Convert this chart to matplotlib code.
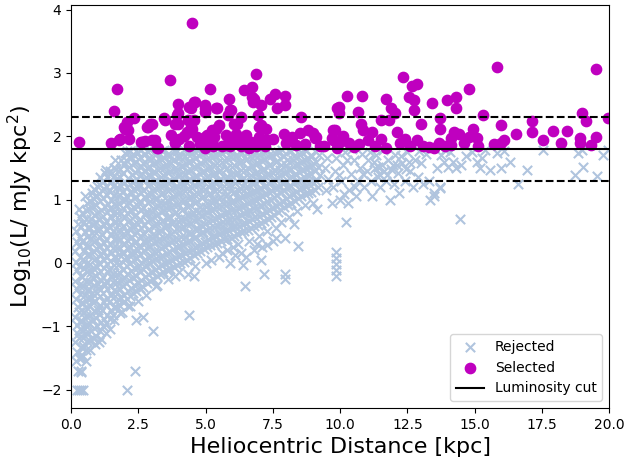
import matplotlib
matplotlib.use("Agg")
import matplotlib.pyplot as plt

# --- Rejected sources ---
# near side, x < 2.6 kpc
rej_near_x = [0.18, 0.22, 0.15, 0.25, 0.2, 0.14, 0.24, 0.18, 0.21, 0.16, 0.23, 0.19, 0.15, 0.22, 0.17, 0.25, 0.3,
              0.42, 0.48, 0.44, 0.5, 0.41, 0.47, 0.43, 0.5, 0.45, 0.4, 0.49, 0.44, 0.47, 0.42, 0.5, 0.45, 0.41, 0.52,
              0.68, 0.73, 0.66, 0.72, 0.7, 0.75, 0.67, 0.71, 0.74, 0.69, 0.72, 0.66, 0.73, 0.7, 0.75, 0.68, 0.72, 0.78,
              0.92, 0.97, 0.94, 1.0, 0.9, 0.96, 0.99, 0.93, 0.97, 0.91, 0.98, 0.94, 0.99, 0.92, 0.97, 0.93, 0.98, 0.95,
              1.18, 1.23, 1.16, 1.22, 1.19, 1.25, 1.17, 1.21, 1.24, 1.18, 1.22, 1.16, 1.23, 1.19, 1.25, 1.17, 1.22, 1.2, 1.26,
              1.43, 1.48, 1.42, 1.47, 1.44, 1.5, 1.41, 1.46, 1.49, 1.43, 1.47, 1.42, 1.5, 1.44, 1.48, 1.42, 1.47, 1.45,
              1.68, 1.73, 1.66, 1.71, 1.69, 1.75, 1.67, 1.72, 1.7, 1.74, 1.66, 1.71, 1.68, 1.73, 1.69, 1.72, 1.67, 1.62,
              1.93, 1.98, 1.92, 1.97, 1.94, 2.0, 1.91, 1.96, 1.99, 1.93, 1.97, 1.92, 1.99, 1.94, 1.98, 1.93, 1.97, 2.0,
              2.18, 2.23, 2.16, 2.22, 2.19, 2.25, 2.17, 2.21, 2.24, 2.18, 2.22, 2.16, 2.23, 2.19, 2.25, 2.17, 2.21, 2.2,
              2.43, 2.48, 2.42, 2.47, 2.44, 2.5, 2.41, 2.46, 2.49, 2.43, 2.47, 2.42, 2.5, 2.44, 2.48, 2.42, 2.47]
rej_near_y = [-1.55, -1.4, -1.25, -1.12, -0.98, -0.85, -0.7, -0.57, -0.42, -0.28, -0.12, 0.02, 0.18, 0.33, 0.5, 0.62, 0.85,
              -1.45, -1.32, -1.18, -1.05, -0.92, -0.78, -0.64, -0.5, -0.37, -0.22, -0.08, 0.06, 0.2, 0.35, 0.48, 0.63, 0.78, 1.05,
              -1.22, -1.08, -0.95, -0.82, -0.68, -0.55, -0.42, -0.3, -0.15, -0.02, 0.12, 0.26, 0.4, 0.55, 0.7, 0.85, 0.98, 1.1,
              -1.15, -1.0, -0.87, -0.74, -0.6, -0.47, -0.33, -0.2, -0.06, 0.08, 0.22, 0.36, 0.5, 0.64, 0.78, 0.92, 1.05, 1.22,
              -1.0, -0.88, -0.75, -0.62, -0.48, -0.35, -0.22, -0.08, 0.05, 0.18, 0.32, 0.46, 0.6, 0.74, 0.88, 1.02, 1.16, 1.3, 1.42,
              -0.88, -0.75, -0.62, -0.5, -0.36, -0.23, -0.1, 0.03, 0.16, 0.3, 0.44, 0.58, 0.72, 0.86, 1.0, 1.14, 1.28, 1.45,
              -0.7, -0.57, -0.44, -0.3, -0.17, -0.04, 0.1, 0.23, 0.37, 0.5, 0.64, 0.78, 0.92, 1.06, 1.2, 1.34, 1.48, 1.62,
              -0.62, -0.5, -0.37, -0.24, -0.1, 0.04, 0.17, 0.3, 0.44, 0.58, 0.72, 0.86, 1.0, 1.14, 1.28, 1.42, 1.56, 1.73,
              -0.52, -0.4, -0.27, -0.13, 0.0, 0.13, 0.27, 0.4, 0.54, 0.68, 0.82, 0.96, 1.1, 1.24, 1.38, 1.52, 1.66, 1.77,
              -0.45, -0.32, -0.2, -0.06, 0.08, 0.21, 0.35, 0.48, 0.62, 0.76, 0.9, 1.04, 1.18, 1.32, 1.46, 1.6, 1.74]

# second pass over the near side (in between the first)
rej_near2_x = [0.31, 0.35, 0.3, 0.34, 0.32, 0.29, 0.36, 0.33, 0.3, 0.35, 0.31, 0.34, 0.29, 0.33, 0.36, 0.32,
               0.56, 0.6, 0.55, 0.59, 0.57, 0.54, 0.61, 0.58, 0.55, 0.6, 0.56, 0.59, 0.54, 0.58, 0.61, 0.57, 0.55, 0.59,
               0.81, 0.85, 0.8, 0.84, 0.82, 0.79, 0.86, 0.83, 0.8, 0.85, 0.81, 0.84, 0.79, 0.83, 0.86, 0.82, 0.8, 0.84,
               1.06, 1.1, 1.05, 1.09, 1.07, 1.04, 1.11, 1.08, 1.05, 1.1, 1.06, 1.09, 1.04, 1.08, 1.11, 1.07, 1.05, 1.09, 1.06,
               1.31, 1.35, 1.3, 1.34, 1.32, 1.29, 1.36, 1.33, 1.3, 1.35, 1.31, 1.34, 1.29, 1.33, 1.36, 1.32, 1.3, 1.34, 1.31,
               1.56, 1.6, 1.55, 1.59, 1.57, 1.54, 1.61, 1.58, 1.55, 1.6, 1.56, 1.59, 1.54, 1.58, 1.61, 1.57, 1.55, 1.59,
               1.81, 1.85, 1.8, 1.84, 1.82, 1.79, 1.86, 1.83, 1.8, 1.85, 1.81, 1.84, 1.79, 1.83, 1.86, 1.82, 1.8, 1.84,
               2.06, 2.1, 2.05, 2.09, 2.07, 2.04, 2.11, 2.08, 2.05, 2.1, 2.06, 2.09, 2.04, 2.08, 2.11, 2.07, 2.05, 2.09,
               2.31, 2.35, 2.3, 2.34, 2.32, 2.29, 2.36, 2.33, 2.3, 2.35, 2.31, 2.34, 2.29, 2.33, 2.36, 2.32, 2.3,
               2.56, 2.6, 2.55, 2.59, 2.57, 2.54, 2.61, 2.58, 2.55, 2.6, 2.56, 2.59, 2.54, 2.58, 2.61, 2.57, 2.55]
rej_near2_y = [-1.5, -1.33, -1.19, -1.04, -0.91, -0.77, -0.63, -0.49, -0.35, -0.2, -0.05, 0.1, 0.26, 0.41, 0.56, 0.72,
               -1.38, -1.24, -1.11, -0.97, -0.84, -0.7, -0.57, -0.43, -0.29, -0.15, -0.01, 0.13, 0.27, 0.41, 0.56, 0.7, 0.84, 0.95,
               -1.18, -1.03, -0.9, -0.76, -0.62, -0.48, -0.35, -0.22, -0.08, 0.05, 0.19, 0.33, 0.47, 0.62, 0.76, 0.9, 1.03, 1.16,
               -1.08, -0.94, -0.81, -0.67, -0.53, -0.4, -0.27, -0.13, 0.0, 0.13, 0.27, 0.41, 0.55, 0.69, 0.83, 0.97, 1.1, 1.23, 1.36,
               -0.95, -0.82, -0.68, -0.55, -0.42, -0.29, -0.15, -0.02, 0.11, 0.24, 0.38, 0.52, 0.66, 0.8, 0.93, 1.07, 1.21, 1.35, 1.47,
               -0.82, -0.69, -0.56, -0.43, -0.3, -0.17, -0.03, 0.1, 0.23, 0.37, 0.51, 0.65, 0.79, 0.93, 1.07, 1.21, 1.35, 1.5,
               -0.68, -0.55, -0.42, -0.29, -0.16, -0.02, 0.11, 0.24, 0.38, 0.51, 0.65, 0.79, 0.93, 1.07, 1.21, 1.35, 1.49, 1.63,
               -0.57, -0.44, -0.31, -0.18, -0.05, 0.09, 0.22, 0.36, 0.5, 0.64, 0.78, 0.92, 1.06, 1.2, 1.34, 1.48, 1.62, 1.76,
               -0.48, -0.35, -0.22, -0.08, 0.05, 0.19, 0.32, 0.46, 0.6, 0.74, 0.88, 1.02, 1.16, 1.3, 1.44, 1.58, 1.72,
               -0.4, -0.27, -0.13, 0.0, 0.14, 0.27, 0.41, 0.55, 0.69, 0.83, 0.97, 1.11, 1.25, 1.39, 1.53, 1.67, 1.79]

# middle, 2.6 - 6 kpc
rej_mid_x = [2.68, 2.74, 2.66, 2.72, 2.7, 2.75, 2.67, 2.71, 2.73, 2.69, 2.74, 2.66, 2.72, 2.7, 2.68, 2.73,
             2.93, 2.98, 2.92, 2.97, 2.95, 3.0, 2.91, 2.96, 2.99, 2.93, 2.97, 2.92, 2.98, 2.94, 2.97, 2.93,
             3.18, 3.23, 3.16, 3.22, 3.19, 3.25, 3.17, 3.21, 3.24, 3.18, 3.22, 3.16, 3.23, 3.19, 3.21,
             3.43, 3.48, 3.42, 3.47, 3.44, 3.5, 3.41, 3.46, 3.49, 3.43, 3.47, 3.42, 3.48, 3.44, 3.46,
             3.68, 3.73, 3.66, 3.72, 3.7, 3.75, 3.67, 3.71, 3.74, 3.68, 3.72, 3.66, 3.73, 3.69,
             3.93, 3.98, 3.92, 3.97, 3.94, 4.0, 3.91, 3.96, 3.99, 3.93, 3.97, 3.92, 3.98, 3.95,
             4.18, 4.23, 4.16, 4.22, 4.19, 4.25, 4.17, 4.21, 4.24, 4.18, 4.22, 4.16, 4.23, 4.2,
             4.43, 4.48, 4.42, 4.47, 4.44, 4.5, 4.41, 4.46, 4.49, 4.43, 4.47, 4.42, 4.48,
             4.68, 4.73, 4.66, 4.72, 4.7, 4.75, 4.67, 4.71, 4.74, 4.68, 4.72, 4.66, 4.73,
             4.93, 4.98, 4.92, 4.97, 4.94, 5.0, 4.91, 4.96, 4.99, 4.93, 4.97, 4.94,
             5.18, 5.23, 5.16, 5.22, 5.19, 5.25, 5.17, 5.21, 5.24, 5.18, 5.22, 5.2,
             5.43, 5.48, 5.42, 5.47, 5.44, 5.5, 5.41, 5.46, 5.49, 5.43, 5.47,
             5.68, 5.73, 5.66, 5.72, 5.7, 5.75, 5.67, 5.71, 5.74, 5.68, 5.72,
             5.93, 5.98, 5.92, 5.97, 5.94, 6.0, 5.91, 5.96, 5.99, 5.93, 5.97]
rej_mid_y = [-0.38, -0.22, -0.1, 0.05, 0.2, 0.31, 0.47, 0.6, 0.76, 0.88, 1.03, 1.15, 1.31, 1.45, 1.57, 1.72,
             -0.28, -0.15, 0.0, 0.11, 0.27, 0.4, 0.53, 0.69, 0.81, 0.97, 1.09, 1.25, 1.37, 1.52, 1.64, 1.78,
             -0.2, -0.07, 0.08, 0.19, 0.35, 0.47, 0.63, 0.75, 0.9, 1.03, 1.19, 1.31, 1.46, 1.59, 1.74,
             -0.15, 0.0, 0.11, 0.27, 0.39, 0.55, 0.67, 0.83, 0.95, 1.11, 1.23, 1.39, 1.51, 1.66, 1.78,
             -0.09, 0.05, 0.17, 0.33, 0.45, 0.61, 0.73, 0.89, 1.01, 1.17, 1.29, 1.45, 1.57, 1.71,
             -0.03, 0.11, 0.25, 0.37, 0.53, 0.65, 0.81, 0.93, 1.09, 1.21, 1.37, 1.49, 1.65, 1.77,
             0.02, 0.15, 0.29, 0.41, 0.57, 0.69, 0.85, 0.97, 1.13, 1.25, 1.41, 1.53, 1.69, 1.79,
             0.08, 0.21, 0.35, 0.47, 0.63, 0.75, 0.91, 1.03, 1.19, 1.31, 1.47, 1.59, 1.74,
             0.15, 0.27, 0.41, 0.53, 0.69, 0.81, 0.97, 1.09, 1.25, 1.37, 1.53, 1.65, 1.78,
             0.22, 0.33, 0.49, 0.61, 0.77, 0.89, 1.05, 1.17, 1.33, 1.45, 1.61, 1.73,
             0.28, 0.41, 0.55, 0.67, 0.83, 0.95, 1.11, 1.23, 1.39, 1.51, 1.67, 1.78,
             0.32, 0.45, 0.6, 0.73, 0.88, 1.01, 1.16, 1.29, 1.44, 1.57, 1.72,
             0.37, 0.5, 0.65, 0.78, 0.93, 1.06, 1.21, 1.34, 1.49, 1.62, 1.77,
             0.4, 0.55, 0.68, 0.83, 0.96, 1.11, 1.24, 1.39, 1.52, 1.67, 1.79]

# second pass over the middle
rej_mid2_x = [2.81, 2.85, 2.8, 2.84, 2.82, 2.79, 2.86, 2.83, 2.8, 2.85, 2.81, 2.84, 2.79, 2.83, 2.86, 2.82,
              3.06, 3.1, 3.05, 3.09, 3.07, 3.04, 3.11, 3.08, 3.05, 3.1, 3.06, 3.09, 3.04, 3.08, 3.11,
              3.31, 3.35, 3.3, 3.34, 3.32, 3.29, 3.36, 3.33, 3.3, 3.35, 3.31, 3.34, 3.29, 3.33, 3.36,
              3.56, 3.6, 3.55, 3.59, 3.57, 3.54, 3.61, 3.58, 3.55, 3.6, 3.56, 3.59, 3.54, 3.58,
              3.81, 3.85, 3.8, 3.84, 3.82, 3.79, 3.86, 3.83, 3.8, 3.85, 3.81, 3.84, 3.79, 3.83,
              4.06, 4.1, 4.05, 4.09, 4.07, 4.04, 4.11, 4.08, 4.05, 4.1, 4.06, 4.09, 4.04,
              4.31, 4.35, 4.3, 4.34, 4.32, 4.29, 4.36, 4.33, 4.3, 4.35, 4.31, 4.34, 4.29,
              4.56, 4.6, 4.55, 4.59, 4.57, 4.54, 4.61, 4.58, 4.55, 4.6, 4.56, 4.59, 4.54,
              4.81, 4.85, 4.8, 4.84, 4.82, 4.79, 4.86, 4.83, 4.8, 4.85, 4.81, 4.84,
              5.06, 5.1, 5.05, 5.09, 5.07, 5.04, 5.11, 5.08, 5.05, 5.1, 5.06, 5.09,
              5.31, 5.35, 5.3, 5.34, 5.32, 5.29, 5.36, 5.33, 5.3, 5.35, 5.31,
              5.56, 5.6, 5.55, 5.59, 5.57, 5.54, 5.61, 5.58, 5.55, 5.6, 5.56,
              5.81, 5.85, 5.8, 5.84, 5.82, 5.79, 5.86, 5.83, 5.8, 5.85, 5.81]
rej_mid2_y = [-0.32, -0.18, -0.04, 0.1, 0.24, 0.38, 0.52, 0.66, 0.8, 0.94, 1.08, 1.22, 1.36, 1.5, 1.64, 1.77,
              -0.25, -0.11, 0.03, 0.17, 0.31, 0.45, 0.59, 0.73, 0.87, 1.01, 1.15, 1.29, 1.43, 1.57, 1.71,
              -0.18, -0.04, 0.1, 0.24, 0.38, 0.52, 0.66, 0.8, 0.94, 1.08, 1.22, 1.36, 1.5, 1.64, 1.77,
              -0.12, 0.02, 0.16, 0.3, 0.44, 0.58, 0.72, 0.86, 1.0, 1.14, 1.28, 1.42, 1.56, 1.7,
              -0.06, 0.08, 0.22, 0.36, 0.5, 0.64, 0.78, 0.92, 1.06, 1.2, 1.34, 1.48, 1.62, 1.76,
              0.0, 0.13, 0.27, 0.41, 0.55, 0.69, 0.83, 0.97, 1.11, 1.25, 1.39, 1.53, 1.67,
              0.05, 0.19, 0.33, 0.47, 0.61, 0.75, 0.89, 1.03, 1.17, 1.31, 1.45, 1.59, 1.73,
              0.12, 0.25, 0.39, 0.53, 0.67, 0.81, 0.95, 1.09, 1.23, 1.37, 1.51, 1.65, 1.78,
              0.18, 0.32, 0.46, 0.6, 0.74, 0.88, 1.02, 1.16, 1.3, 1.44, 1.58, 1.72,
              0.25, 0.38, 0.52, 0.66, 0.8, 0.94, 1.08, 1.22, 1.36, 1.5, 1.64, 1.77,
              0.3, 0.43, 0.57, 0.71, 0.85, 0.99, 1.13, 1.27, 1.41, 1.55, 1.69,
              0.35, 0.48, 0.62, 0.76, 0.9, 1.04, 1.18, 1.32, 1.46, 1.6, 1.74,
              0.38, 0.52, 0.66, 0.8, 0.94, 1.08, 1.22, 1.36, 1.5, 1.64, 1.78]

# far, 6 - 9.6 kpc
rej_far_x = [6.18, 6.23, 6.16, 6.22, 6.19, 6.25, 6.17, 6.21, 6.24, 6.18,
             6.43, 6.48, 6.42, 6.47, 6.44, 6.5, 6.41, 6.46, 6.49, 6.43,
             6.68, 6.73, 6.66, 6.72, 6.7, 6.75, 6.67, 6.71, 6.74, 6.69,
             6.93, 6.98, 6.92, 6.97, 6.94, 7.0, 6.91, 6.96, 6.99,
             7.18, 7.23, 7.16, 7.22, 7.19, 7.25, 7.17, 7.21, 7.24,
             7.43, 7.48, 7.42, 7.47, 7.44, 7.5, 7.41, 7.46,
             7.68, 7.73, 7.66, 7.72, 7.7, 7.75, 7.67, 7.71,
             7.93, 7.98, 7.92, 7.97, 7.94, 8.0, 7.91,
             8.18, 8.23, 8.16, 8.22, 8.19, 8.25, 8.17,
             8.43, 8.48, 8.42, 8.47, 8.44, 8.5,
             8.68, 8.73, 8.66, 8.72, 8.7, 8.75,
             8.93, 8.98, 8.92, 8.97, 8.94,
             9.18, 9.25, 9.17, 9.22, 9.48, 9.55, 9.45, 9.52]
rej_far_y = [0.45, 0.58, 0.73, 0.86, 1.01, 1.14, 1.29, 1.42, 1.57, 1.7,
             0.5, 0.63, 0.78, 0.91, 1.06, 1.19, 1.34, 1.47, 1.62, 1.76,
             0.55, 0.69, 0.82, 0.97, 1.1, 1.25, 1.38, 1.53, 1.66, 1.78,
             0.6, 0.74, 0.87, 1.02, 1.15, 1.3, 1.43, 1.58, 1.71,
             0.66, 0.8, 0.93, 1.08, 1.21, 1.36, 1.49, 1.64, 1.77,
             0.72, 0.86, 0.99, 1.14, 1.27, 1.42, 1.55, 1.7,
             0.8, 0.93, 1.07, 1.2, 1.34, 1.47, 1.61, 1.75,
             0.88, 1.01, 1.15, 1.28, 1.42, 1.55, 1.69,
             0.95, 1.09, 1.22, 1.36, 1.49, 1.63, 1.76,
             1.02, 1.16, 1.29, 1.43, 1.56, 1.7,
             1.08, 1.22, 1.35, 1.5, 1.63, 1.77,
             1.12, 1.26, 1.4, 1.55, 1.69,
             1.2, 1.38, 1.52, 1.7, 1.15, 1.32, 1.5, 1.66]

# second pass over the far side
rej_far2_x = [6.06, 6.1, 6.05, 6.09, 6.07, 6.04, 6.11, 6.08, 6.05, 6.1,
              6.31, 6.35, 6.3, 6.34, 6.32, 6.29, 6.36, 6.33, 6.3, 6.35,
              6.56, 6.6, 6.55, 6.59, 6.57, 6.54, 6.61, 6.58, 6.55, 6.6,
              6.81, 6.85, 6.8, 6.84, 6.82, 6.79, 6.86, 6.83, 6.8,
              7.06, 7.1, 7.05, 7.09, 7.07, 7.04, 7.11, 7.08, 7.05,
              7.31, 7.35, 7.3, 7.34, 7.32, 7.29, 7.36, 7.33,
              7.56, 7.6, 7.55, 7.59, 7.57, 7.54, 7.61, 7.58,
              7.81, 7.85, 7.8, 7.84, 7.82, 7.79, 7.86, 7.83,
              8.06, 8.1, 8.05, 8.09, 8.07, 8.04, 8.11,
              8.31, 8.35, 8.3, 8.34, 8.32, 8.29,
              8.56, 8.6, 8.55, 8.59, 8.57, 8.54,
              8.81, 8.85, 8.8, 8.84, 8.82,
              9.06, 9.1, 9.05, 9.09, 9.07]
rej_far2_y = [0.42, 0.56, 0.7, 0.84, 0.98, 1.12, 1.26, 1.4, 1.54, 1.68,
              0.48, 0.62, 0.76, 0.9, 1.04, 1.18, 1.32, 1.46, 1.6, 1.74,
              0.52, 0.66, 0.8, 0.94, 1.08, 1.22, 1.36, 1.5, 1.64, 1.77,
              0.58, 0.72, 0.86, 1.0, 1.14, 1.28, 1.42, 1.56, 1.7,
              0.63, 0.77, 0.91, 1.05, 1.19, 1.33, 1.47, 1.61, 1.75,
              0.7, 0.84, 0.98, 1.12, 1.26, 1.4, 1.54, 1.68,
              0.76, 0.9, 1.04, 1.18, 1.32, 1.46, 1.6, 1.74,
              0.84, 0.98, 1.12, 1.26, 1.4, 1.54, 1.68, 1.79,
              0.92, 1.06, 1.2, 1.34, 1.48, 1.62, 1.76,
              0.98, 1.12, 1.26, 1.4, 1.54, 1.68,
              1.05, 1.19, 1.33, 1.47, 1.61, 1.75,
              1.1, 1.24, 1.38, 1.52, 1.66,
              1.15, 1.3, 1.45, 1.6, 1.76]

# lower edge of the cloud
rej_edge_x = [5.2, 5.5, 5.8, 6.0, 6.2, 6.6, 7.0, 7.3, 7.6, 7.8, 8.1, 8.4, 8.7, 9.0, 5.9, 6.3, 5.0, 4.6, 4.0,
              3.6, 3.2, 2.8, 2.5, 2.2, 1.9, 1.6, 1.3, 1.1, 0.9, 0.7, 0.55, 0.35, 6.8, 7.3, 6.5, 6.9, 7.6, 5.6,
              6.1, 7.1, 7.5, 8.3]
rej_edge_y = [0.05, 0.1, 0.2, 0.25, 0.3, 0.35, 0.42, 0.5, 0.55, 0.65, 0.72, 0.82, 0.92, 0.95, 0.0, 0.15, 0.0,
              -0.05, -0.15, -0.25, -0.35, -0.5, -0.6, -0.68, -0.78, -0.9, -1.1, -1.2, -1.28, -1.38, -1.55, -1.72,
              0.2, 0.28, 0.1, 0.3, 0.4, 0.15, 0.12, 0.25, 0.35, 0.62]

# beyond 9.7 kpc
rej_tail_x = [9.75, 9.8, 9.85, 10.0, 10.05, 10.1, 10.2, 10.3, 10.35, 10.4, 10.5, 10.6, 10.65, 10.75, 10.8, 10.9,
              11.0, 11.05, 11.15, 11.2, 11.3, 11.35, 11.45, 11.5, 11.55, 11.65, 11.7, 11.8, 11.85, 11.9, 12.0,
              12.05, 12.15, 12.2, 12.3, 12.4, 12.5, 12.6, 12.7, 12.8, 12.9, 13.0, 13.1, 13.2, 13.3, 13.5, 13.6,
              13.7, 13.75, 13.85, 14.0, 14.1, 14.2, 14.3, 13.9, 12.95, 11.6, 10.45, 11.4, 11.95, 9.7, 10.15,
              14.7, 15.08, 15.26, 15.58, 15.83, 16.0, 16.32, 16.63, 16.94, 17.56, 18.74, 19.05, 19.54, 18.84,
              19.79, 14.9, 15.4, 16.1, 19.0, 14.5, 15.2, 19.95,
              9.95, 10.25, 10.55, 10.85, 11.1, 11.25, 11.4, 11.75, 12.1, 12.25, 12.45, 12.55]
rej_tail_y = [1.2, 1.45, 1.65, 1.0, 1.3, 1.55, 1.75, 0.95, 1.15, 1.4, 1.62, 1.05, 1.3, 1.5, 1.72, 1.2,
              1.45, 1.62, 1.3, 1.05, 1.5, 1.7, 1.4, 1.2, 1.55, 1.45, 1.3, 1.62, 1.0, 1.48, 1.25,
              1.7, 1.42, 1.1, 1.58, 1.3, 1.75, 1.45, 1.2, 1.62, 1.35, 1.57, 1.25, 1.72, 1.3, 1.1, 1.5,
              1.2, 1.7, 1.6, 1.52, 1.75, 1.6, 1.5, 1.78, 1.77, 1.78, 1.8, 1.35, 1.55, 0.95, 1.08,
              1.68, 1.6, 1.65, 1.47, 1.73, 1.5, 1.6, 1.24, 1.46, 1.78, 1.39, 1.52, 1.37, 1.73,
              1.71, 1.75, 1.78, 1.77, 1.78, 1.55, 1.5, 1.78,
              1.38, 1.62, 1.2, 1.4, 1.75, 1.6, 1.52, 1.38, 1.55, 1.68, 1.48, 1.6]

# isolated crosses
rej_out_x = [0.2, 0.28, 0.36, 0.43, 0.25, 0.38, 2.09, 2.37, 3.05, 4.38, 2.43, 2.68, 1.44, 1.03, 0.38, 3.17, 3.85,
             4.35, 2.12, 1.81, 6.47, 7.17, 7.96, 7.96, 7.05, 6.38, 8.45, 7.96, 9.85, 9.85, 9.85, 9.85, 9.85, 9.13,
             4.55, 10.21, 14.46, 13.35, 13.72, 13.5]
rej_out_y = [-2.0, -2.0, -2.0, -2.0, -1.7, -1.7, -2.0, -1.7, -1.07, -0.82, -0.9, -0.85, -1.05, -1.25,
             -1.5, -0.36, -0.21, -0.18, -0.68, -0.79, -0.36, -0.18, -0.18, -0.26, 0.04, -0.04, 0.27, 0.4, 0.17,
             0.08, -0.02, -0.12, -0.2, 0.85, -0.21, 0.64, 0.69, 1.0, 1.19, 1.05]

# --- Selected sources ---
sel_near_x = [0.29, 1.71, 1.6, 1.5, 1.81, 2.16, 2.02, 2.09, 2.34, 2.86, 2.99, 2.64, 3.13, 3.23, 3.48, 3.69, 3.98,
              3.98, 3.85, 3.73, 3.85, 4.41, 4.47, 4.35, 4.45, 4.6, 4.38, 4.96, 4.96, 4.5, 3.92, 4.39, 4.57, 4.55,
              4.48, 4.67, 4.3, 2.59, 3.18, 3.0, 2.81, 2.94, 2.13, 1.97, 1.78, 3.46, 3.97, 3.87, 4.8, 4.98, 4.9,
              2.75, 4.0, 4.2]
sel_near_y = [1.91, 2.75, 2.39, 1.9, 1.96, 1.95, 2.12, 2.23, 2.28, 2.15, 2.2, 1.91, 1.94, 1.81, 2.25, 2.88, 2.51,
              2.36, 2.2, 2.02, 1.91, 2.07, 2.15, 2.25, 2.44, 2.54, 1.84, 2.44, 1.99, 3.79, 2.33, 2.46, 2.54, 2.25,
              2.12, 1.99, 2.07, 1.91, 1.81, 1.94, 2.15, 2.2, 2.1, 2.15, 1.94, 2.28, 2.2, 1.89, 1.88, 1.81, 1.9,
              1.92, 1.95, 2.0]
sel_mid_x = [6.88, 5.17, 6.44, 6.72, 5.87, 4.98, 4.98, 5.44, 5.94, 5.85, 6.74, 6.77, 7.05, 7.39, 7.58, 7.95, 7.95,
             7.67, 6.31, 6.96, 7.05, 6.18, 5.5, 5.25, 5.07, 5.75, 6.0, 6.31, 6.49, 6.98, 7.3, 6.72, 5.75, 5.25,
             7.92, 8.23, 8.36, 8.56, 8.81, 9.06, 9.26, 9.69, 9.88, 9.81, 5.4, 5.9, 6.8, 5.19, 5.38, 6.06, 6.99,
             7.24, 7.24, 9.12, 5.29, 6.12, 6.25, 6.68, 6.31, 6.87, 5.91, 5.6, 6.6, 7.2, 7.5, 8.0, 8.5, 8.7, 9.0,
             9.4, 9.9, 5.3]
sel_mid_y = [2.98, 2.75, 2.73, 2.77, 2.58, 2.49, 2.38, 2.45, 2.42, 2.34, 2.62, 2.54, 2.5, 2.58, 2.67, 2.64, 2.5,
             2.44, 2.3, 2.33, 2.17, 2.2, 2.17, 2.1, 2.02, 2.02, 1.94, 1.94, 2.02, 1.99, 1.94, 1.89, 1.86, 1.89,
             2.04, 1.99, 1.86, 2.3, 2.1, 1.97, 1.84, 1.97, 2.44, 2.1, 2.45, 2.41, 2.59, 2.04, 2.12, 2.2, 2.15,
             2.12, 1.94, 1.99, 1.84, 2.04, 1.94, 1.91, 1.84, 1.84, 1.84, 1.85, 1.82, 1.85, 1.95, 1.9, 2.05, 1.88,
             2.05, 1.85, 1.82, 1.98]
sel_far_x = [12.35, 12.66, 12.85, 10.26, 10.83, 9.96, 9.96, 10.67, 11.72, 11.91, 12.04, 12.57, 12.73, 12.73, 13.41,
             13.99, 14.3, 14.3, 14.78, 11.51, 11.82, 10.78, 10.86, 13.0, 13.72, 13.72, 11.2, 12.1, 11.51, 11.02,
             10.33, 10.0, 9.75, 9.75, 12.23, 12.85, 12.6, 13.31, 13.68, 14.11, 14.11, 14.24, 14.42, 14.8, 10.1,
             10.5, 10.7, 11.3, 11.7, 12.4, 13.1, 13.5, 13.9, 14.6]
sel_far_y = [2.94, 2.8, 2.83, 2.63, 2.64, 2.46, 2.37, 2.38, 2.58, 2.44, 2.36, 2.62, 2.57, 2.41, 2.52,
             2.57, 2.62, 2.44, 2.75, 2.26, 2.25, 2.2, 2.1, 2.2, 2.28, 2.12, 2.07, 2.07, 1.95, 1.94,
             1.89, 1.91, 2.1, 1.94, 1.89, 1.94, 1.84, 1.83, 1.89, 1.97, 1.86, 2.07, 2.04, 1.99, 2.0,
             1.83, 1.88, 1.85, 1.82, 1.95, 1.84, 1.82, 1.85, 1.9]
sel_tail_x = [15.83, 19.52, 15.32, 14.93, 15.08, 15.14, 16.0, 16.53, 16.1, 15.72, 15.98, 17.13, 17.13, 17.54,
              17.93, 18.43, 18.22, 19.01, 19.13, 18.92, 18.92, 19.33, 19.52, 19.95]
sel_tail_y = [3.09, 3.06, 2.33, 2.12, 1.97, 1.84, 2.17, 2.04, 1.94, 1.88, 1.89, 2.24, 2.07, 1.94,
              2.09, 2.09, 1.89, 2.37, 2.24, 1.97, 1.89, 1.86, 1.98, 2.28]

lum_cut = 1.8
band = 0.5

rej_x = rej_near_x + rej_near2_x + rej_mid_x + rej_mid2_x + rej_far_x + rej_far2_x + rej_edge_x + rej_tail_x + rej_out_x
rej_y = rej_near_y + rej_near2_y + rej_mid_y + rej_mid2_y + rej_far_y + rej_far2_y + rej_edge_y + rej_tail_y + rej_out_y
sel_x = sel_near_x + sel_mid_x + sel_far_x + sel_tail_x
sel_y = sel_near_y + sel_mid_y + sel_far_y + sel_tail_y

fig = plt.figure(figsize=(6.24, 4.62), dpi=100)
ax = fig.add_axes([0.114, 0.117, 0.862, 0.872])

h_rej = ax.scatter(rej_x, rej_y, marker='x', color='lightsteelblue', s=45, linewidths=1.5, label='Rejected')
h_sel = ax.scatter(sel_x, sel_y, marker='o', color='m', s=55, label='Selected')
h_cut = ax.axhline(lum_cut, color='k', lw=1.5, label='Luminosity cut')
ax.axhline(lum_cut + band, color='k', lw=1.5, ls='--')
ax.axhline(lum_cut - band, color='k', lw=1.5, ls='--')

ax.set_xlim(0, 20)
ax.set_ylim(-2.29, 4.07)
ax.set_xlabel('Heliocentric Distance [kpc]', fontsize=16)
ax.set_ylabel(r'Log$_{10}$(L/ mJy kpc$^2$)', fontsize=16)
ax.tick_params(labelsize=10)

ax.legend(handles=[h_rej, h_sel, h_cut], loc='lower right', fontsize=10, scatterpoints=1)

fig.savefig('out.png', dpi=100)
